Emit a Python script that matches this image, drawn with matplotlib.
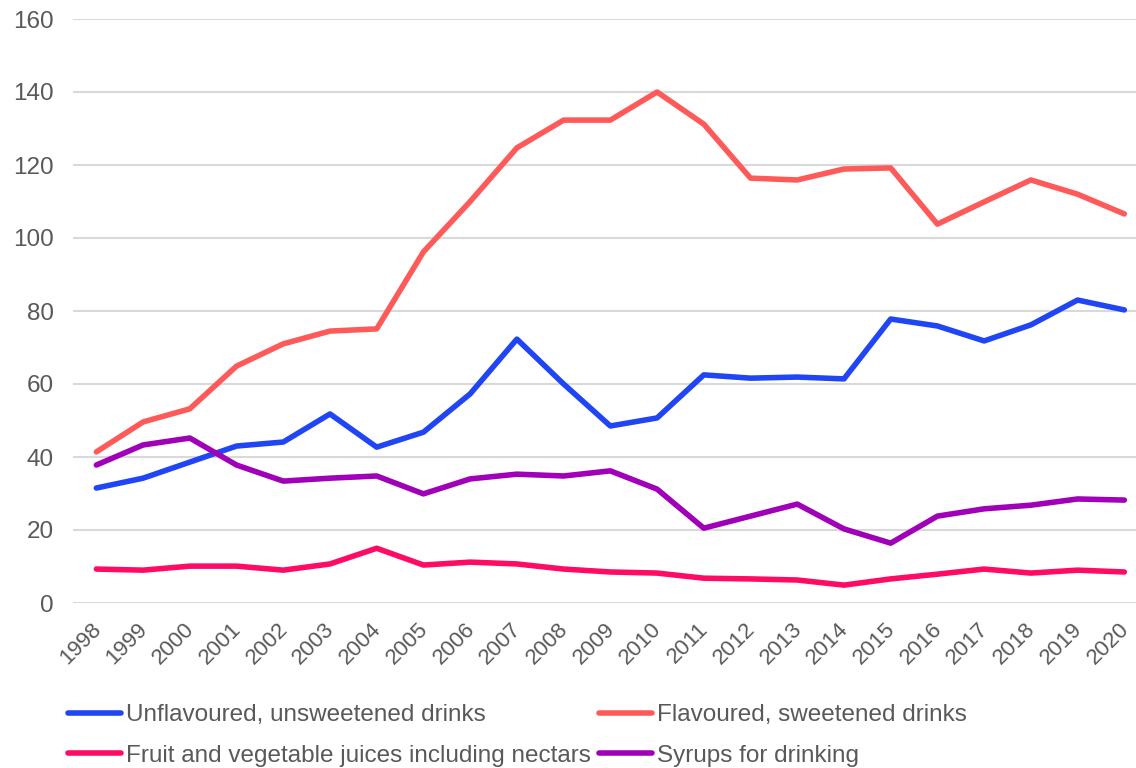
import matplotlib.pyplot as plt
import matplotlib.transforms as mtransforms
import numpy as np

plt.rcParams['font.family'] = ['Liberation Sans', 'DejaVu Sans']

years = [str(y) for y in range(1998, 2021)]

unflavoured = [31.5, 34.2, 38.6, 43.0, 44.1, 51.8, 42.7, 46.8, 57.3, 72.3, 60.0, 48.5,
               50.7, 62.5, 61.6, 61.9, 61.4, 77.8, 75.9, 71.8, 76.2, 83.0, 80.3]
flavoured = [41.4, 49.6, 53.2, 64.9, 71.0, 74.5, 75.1, 96.2, 110.0, 124.7, 132.3, 132.3,
             140.0, 131.2, 116.4, 115.9, 118.9, 119.2, 103.8, 109.9, 115.9, 112.0, 106.6]
juices = [9.3, 9.0, 10.1, 10.1, 9.0, 10.7, 15.0, 10.4, 11.2, 10.7, 9.3, 8.5,
          8.2, 6.8, 6.6, 6.3, 4.9, 6.6, 7.9, 9.3, 8.2, 9.0, 8.5]
syrups = [37.8, 43.3, 45.2, 37.8, 33.4, 34.2, 34.8, 29.9, 34.0, 35.3, 34.8, 36.2,
          31.2, 20.5, 23.8, 27.1, 20.3, 16.4, 23.8, 25.8, 26.8, 28.5, 28.2]

labels = ['Unflavoured, unsweetened drinks', 'Flavoured, sweetened drinks',
          'Fruit and vegetable juices including nectars', 'Syrups for drinking']
colors = ['#1F45F5', '#FF5A5A', '#FF0A64', '#A000B8']

fig = plt.figure(figsize=(11.36, 7.68), dpi=100)
ax = fig.add_axes([73 / 1136, 1 - 603 / 768, 1 - 73 / 1136, (603 - 19) / 768])

x = np.arange(len(years))
lines = []
for vals, lab, col in zip([unflavoured, flavoured, juices, syrups], labels, colors):
    ln, = ax.plot(x, vals, color=col, lw=4.0, label=lab, solid_capstyle='round',
                  solid_joinstyle='round')
    lines.append(ln)

ax.set_ylim(0, 160)
ax.set_yticks(range(0, 161, 20))
ax.set_xlim(-0.5, 22.25)
ax.set_xticks(x)
ax.set_xticklabels(years, rotation=45, ha='right', rotation_mode='anchor')
ax.grid(axis='y', color='#D9D9D9', lw=1.5)
ax.set_axisbelow(True)
for s in ax.spines.values():
    s.set_visible(False)
ax.tick_params(axis='both', length=0, labelsize=17.5, colors='#595959')
ax.tick_params(axis='y', pad=14)
ax.tick_params(axis='x', pad=4, labelsize=16)

# nudge the rotated year labels a bit left and down
shift = mtransforms.ScaledTranslation(-0.06, -0.10, fig.dpi_scale_trans)
for lbl in ax.get_xticklabels():
    lbl.set_transform(lbl.get_transform() + shift)

# two rows: first row unflavoured / flavoured, second row juices / syrups
order = [0, 2, 1, 3]
leg = fig.legend([lines[i] for i in order], [labels[i] for i in order], ncol=2,
                 loc='center left', bbox_to_anchor=(68 / 1136, 1 - 735.5 / 768),
                 frameon=False, borderpad=0, borderaxespad=0,
                 fontsize=17.5, handlelength=2.2, handletextpad=0.2,
                 columnspacing=0.3, labelspacing=0.75, labelcolor='#595959')

fig.savefig('out.png', dpi=100)
